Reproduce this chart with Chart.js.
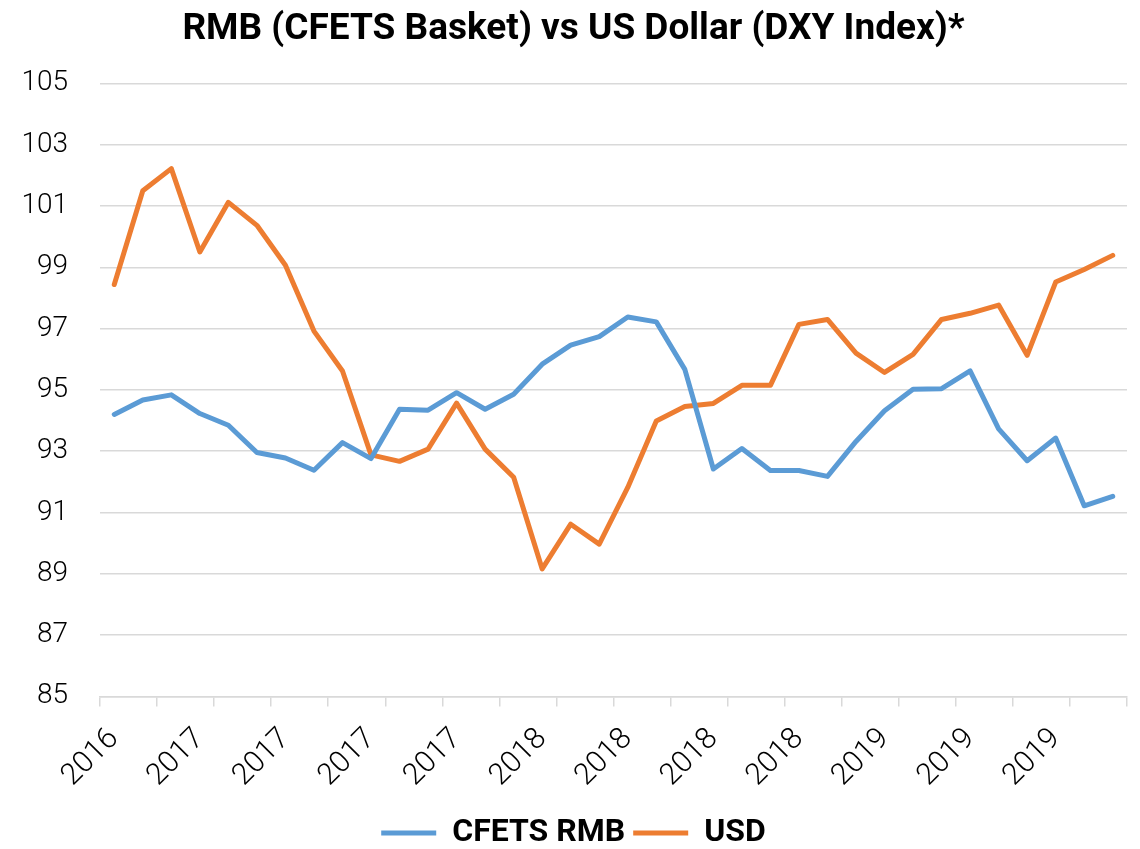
<!DOCTYPE html>
<html>
<head>
<meta charset="utf-8">
<title>RMB vs USD</title>
<script src="https://cdn.jsdelivr.net/npm/chart.js@4.4.1/dist/chart.umd.min.js"></script>
<style>
  html, body { margin: 0; padding: 0; background: #fff; }
  #wrap { width: 1140px; height: 849px; }
</style>
</head>
<body>
<div id="wrap"><canvas id="myChart" width="1140" height="849"></canvas></div>
<script>
"use strict";
// monthly points, Oct 2016 .. Sep 2019 (axis only shows the year)
const periods = [
    "2016", "2016", "2016",
    "2017", "2017", "2017", "2017", "2017", "2017", "2017", "2017", "2017", "2017", "2017", "2017",
    "2018", "2018", "2018", "2018", "2018", "2018", "2018", "2018", "2018", "2018", "2018", "2018",
    "2019", "2019", "2019", "2019", "2019", "2019", "2019", "2019", "2019"
];
const cfetsRmb = [
    94.2, 94.67, 94.84, 94.23, 93.85, 92.96, 92.78, 92.38, 93.28, 92.76, 94.37, 94.34,
    94.91, 94.37, 94.86, 95.84, 96.46, 96.74, 97.38, 97.22, 95.67, 92.42, 93.09, 92.37,
    92.37, 92.18, 93.32, 94.32, 95.02, 95.04, 95.62, 93.73, 92.69, 93.43, 91.22, 91.53
];
const usdDxy = [
    98.44, 101.5, 102.22, 99.5, 101.12, 100.37, 99.07, 96.92, 95.62, 92.88, 92.67, 93.07,
    94.57, 93.07, 92.15, 89.16, 90.62, 89.97, 91.82, 93.99, 94.46, 94.56, 95.15, 95.15,
    97.14, 97.3, 96.2, 95.57, 96.16, 97.3, 97.5, 97.77, 96.13, 98.52, 98.93, 99.39
];
const yMin = 85, yMax = 105, yStep = 2;
const labelEvery = 3;   // year label every 3rd point
const tickEvery = 2;    // tick mark every 2nd boundary

const colors = {
    blue: "#5B9BD5",
    orange: "#ED7D31",
    grid: "#d9d9d9",
    text: "#000000"
};

const ctx = document.getElementById("myChart");

new Chart(ctx, {
    type: "line",
    data: {
        labels: periods,
        datasets: [
            {
                label: "CFETS RMB",
                data: cfetsRmb,
                borderColor: colors.blue,
                backgroundColor: colors.blue,
                borderWidth: 5,
                borderCapStyle: "round",
                borderJoinStyle: "round",
                pointRadius: 0,
                pointStyle: "line",
                tension: 0
            },
            {
                label: "USD",
                data: usdDxy,
                borderColor: colors.orange,
                backgroundColor: colors.orange,
                borderWidth: 5,
                borderCapStyle: "round",
                borderJoinStyle: "round",
                pointRadius: 0,
                pointStyle: "line",
                tension: 0
            }
        ]
    },
    options: {
        responsive: false,
        animation: false,
        layout: {
            padding: { left: 20, right: 13, top: 4, bottom: -10 }
        },
        scales: {
            x: {
                offset: true,
                afterFit: (scale) => {
                    // let the first rotated label hang left of the plot, like the original
                    scale.paddingLeft = 0;
                    scale.paddingRight = 0;
                },
                grid: {
                    offset: true,
                    drawOnChartArea: false,
                    tickLength: 10,
                    lineWidth: 1.5,
                    color: (c) => (c.index === undefined || c.index % tickEvery === 0) ? colors.grid : "rgba(0,0,0,0)"
                },
                border: { color: colors.grid, width: 1.5 },
                ticks: {
                    autoSkip: false,
                    minRotation: 45,
                    maxRotation: 45,
                    padding: 15,
                    color: colors.text,
                    font: { family: "Roboto", size: 30, weight: "300" },
                    callback: function (value, index) {
                        return index % labelEvery === 0 ? this.getLabelForValue(value) : "";
                    }
                }
            },
            y: {
                min: yMin,
                max: yMax,
                afterFit: (scale) => {
                    scale.width = 80;
                },
                grid: {
                    color: colors.grid,
                    lineWidth: 1.5,
                    drawTicks: false
                },
                border: { display: false },
                ticks: {
                    stepSize: yStep,
                    padding: 32,
                    color: colors.text,
                    font: { family: "Roboto", size: 28, weight: "300" }
                }
            }
        },
        plugins: {
            title: {
                display: true,
                text: "RMB (CFETS Basket) vs US Dollar (DXY Index)*",
                color: colors.text,
                font: { family: "Roboto", size: 37, weight: "bold" },
                padding: { top: 4, bottom: 31 }
            },
            legend: {
                position: "bottom",
                labels: {
                    usePointStyle: true,
                    pointStyleWidth: 55,
                    color: colors.text,
                    padding: 8,
                    font: { family: "Roboto", size: 32, weight: "bold" }
                }
            },
            tooltip: { enabled: false }
        }
    }
});
</script>
</body>
</html>
